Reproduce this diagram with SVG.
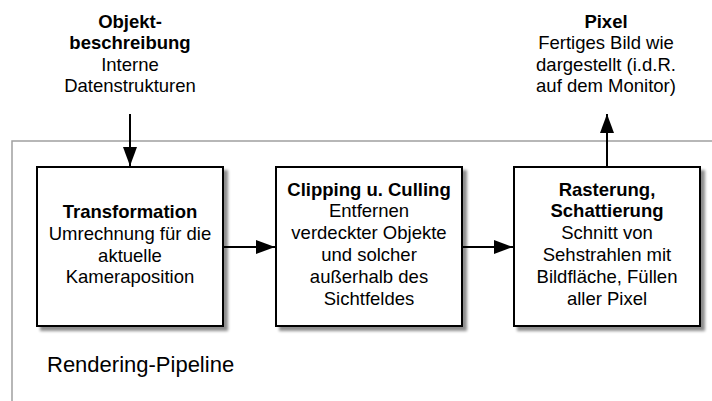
<svg xmlns="http://www.w3.org/2000/svg" width="712" height="401" viewBox="0 0 712 401">
<style>
text{font-family:"Liberation Sans",Arial,Helvetica,sans-serif;font-size:18.5px;fill:#000;text-anchor:middle}
.b{font-weight:bold}
.box{fill:#fff;stroke:#000;stroke-width:2}
.conn{stroke:#000;stroke-width:2;fill:none}
</style>
<defs>
<filter id="sh" x="-10%" y="-10%" width="130%" height="130%">
<feGaussianBlur in="SourceAlpha" stdDeviation="1.6"/>
<feOffset dx="3.5" dy="3.5" result="o"/>
<feComponentTransfer><feFuncA type="linear" slope="0.45"/></feComponentTransfer>
<feMerge><feMergeNode/><feMergeNode in="SourceGraphic"/></feMerge>
</filter>
<marker id="ah" markerWidth="19" markerHeight="14" refX="19" refY="7" orient="auto" markerUnits="userSpaceOnUse">
<path d="M0,0 L19,7 L0,14 Z" fill="#000"/>
</marker>
</defs>
<g id="pipeline-frame">
<rect x="12" y="141" width="720" height="280" fill="none" stroke="#a0a0a0" stroke-width="1.5"/>
<text x="47" y="372" style="font-size:22px;text-anchor:start">Rendering-Pipeline</text>
</g>
<g id="input">
<text x="130" y="27.5" class="b">Objekt-</text>
<text x="130" y="49" class="b">beschreibung</text>
<text x="130" y="70.5">Interne</text>
<text x="130" y="92">Datenstrukturen</text>
</g>
<g id="output">
<text x="606" y="27.5" class="b">Pixel</text>
<text x="606" y="49">Fertiges Bild wie</text>
<text x="606" y="70.5">dargestellt (i.d.R.</text>
<text x="606" y="92">auf dem Monitor)</text>
</g>
<g id="transformation">
<rect x="37" y="167" width="186" height="159" class="box" filter="url(#sh)"/>
<text x="130" y="218" class="b">Transformation</text>
<text x="130" y="240">Umrechnung für die</text>
<text x="130" y="261.5">aktuelle</text>
<text x="130" y="283">Kameraposition</text>
</g>
<g id="clipping">
<rect x="276" y="167" width="186" height="159" class="box" filter="url(#sh)"/>
<text x="369" y="195.5" class="b">Clipping u. Culling</text>
<text x="369" y="217">Entfernen</text>
<text x="369" y="239">verdeckter Objekte</text>
<text x="369" y="261">und solcher</text>
<text x="369" y="283">außerhalb des</text>
<text x="369" y="305">Sichtfeldes</text>
</g>
<g id="rasterung">
<rect x="514" y="167" width="186" height="159" class="box" filter="url(#sh)"/>
<text x="607" y="195.5" class="b">Rasterung,</text>
<text x="607" y="217" class="b">Schattierung</text>
<text x="607" y="239">Schnitt von</text>
<text x="607" y="261">Sehstrahlen mit</text>
<text x="607" y="283">Bildfläche, Füllen</text>
<text x="607" y="305">aller Pixel</text>
</g>
<g id="connectors">
<line x1="130" y1="114" x2="130" y2="166" class="conn" marker-end="url(#ah)"/>
<line x1="223" y1="247" x2="275" y2="247" class="conn" marker-end="url(#ah)"/>
<line x1="462" y1="247" x2="513" y2="247" class="conn" marker-end="url(#ah)"/>
<line x1="607" y1="167" x2="607" y2="114" class="conn" marker-end="url(#ah)"/>
</g>
</svg>
